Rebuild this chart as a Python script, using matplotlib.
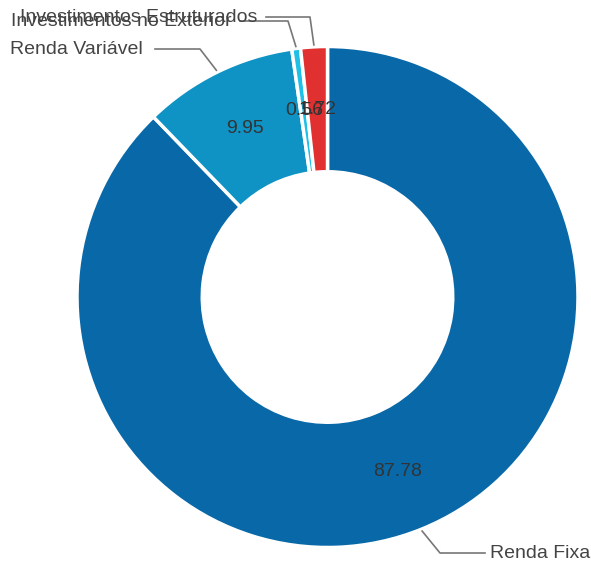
import numpy as np
import matplotlib.pyplot as plt

plt.rcParams['font.family'] = ['Liberation Sans', 'DejaVu Sans']

categories = ["Renda Fixa", "Renda Variável", "Investimentos no Exterior", "Investimentos Estruturados"]
values = [87.78, 9.95, 0.56, 1.72]
colors = ["#0868a8", "#0e93c4", "#1ec0e6", "#e03030"]

W, H = 591, 566
fig = plt.figure(figsize=(W / 100, H / 100), dpi=100)
ax = fig.add_axes([0, 0, 1, 1])
ax.set_xlim(0, W)
ax.set_ylim(0, H)
ax.axis('off')

cx, cy = 327.5, H - 297
R = 250.5

wedges, _, autotexts = ax.pie(values, colors=colors, startangle=90, counterclock=False,
                              center=(cx, cy), radius=R, autopct=lambda p: "",
                              pctdistance=0.75,
                              wedgeprops=dict(width=R * 0.5, edgecolor="white", linewidth=2.5))
ax.set_xlim(0, W)
ax.set_ylim(0, H)
ax.set_aspect('auto')

for w, v in zip(wedges, values):
    mid = np.deg2rad((w.theta1 + w.theta2) / 2)
    r = R * 0.75
    ax.text(cx + r * np.cos(mid), cy + r * np.sin(mid), f"{v:.2f}",
            ha="center", va="center", fontsize=14, color="#333333")

# label layout: (elbow, line end, text x, alignment)
layout = {
    "Renda Fixa": ((440, 553), (485, 553), 490, "left"),
    "Renda Variável": ((200, 49), (155, 49), 143, "right"),
    "Investimentos no Exterior": ((288, 21), (240, 21), 232, "right"),
    "Investimentos Estruturados": ((310, 17), (266, 17), 257, "right"),
}

for w, name in zip(wedges, categories):
    mid = np.deg2rad((w.theta1 + w.theta2) / 2)
    x0, y0 = cx + (R + 2) * np.cos(mid), cy + (R + 2) * np.sin(mid)
    (ex, ey), (lx, ly), tx, ha = layout[name]
    ax.plot([x0, ex, lx], [y0, H - ey, H - ly], color="#777777", lw=1.2)
    ax.text(tx, H - ly, name, ha=ha, va="center", fontsize=14, color="#444444")

fig.savefig("out.png", dpi=100)
